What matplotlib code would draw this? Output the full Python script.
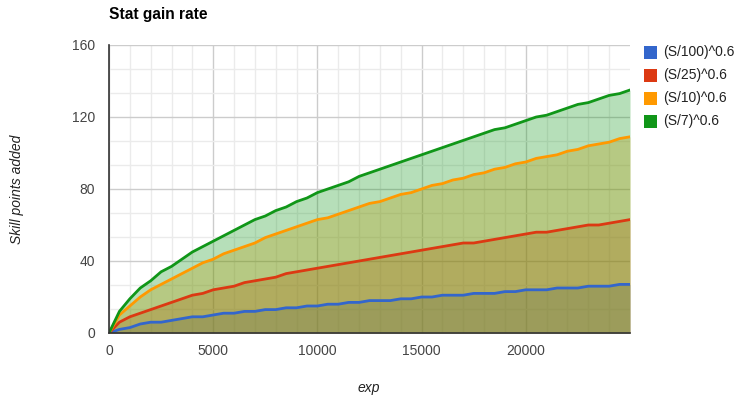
import numpy as np
import matplotlib
matplotlib.use('Agg')
import matplotlib.pyplot as plt
from matplotlib.patches import Rectangle

plt.rcParams['font.family'] = ['Liberation Sans', 'DejaVu Sans']

exp = list(range(0, 25001, 500))
s100 = [0, 2, 3, 5, 6, 6, 7, 8, 9, 9, 10, 11, 11, 12, 12, 13, 13, 14, 14, 15,
        15, 16, 16, 17, 17, 18, 18, 18, 19, 19, 20, 20, 21, 21, 21, 22, 22, 22,
        23, 23, 24, 24, 24, 25, 25, 25, 26, 26, 26, 27, 27]
s25 = [0, 6, 9, 11, 13, 15, 17, 19, 21, 22, 24, 25, 26, 28, 29, 30, 31, 33, 34,
       35, 36, 37, 38, 39, 40, 41, 42, 43, 44, 45, 46, 47, 48, 49, 50, 50, 51,
       52, 53, 54, 55, 56, 56, 57, 58, 59, 60, 60, 61, 62, 63]
s10 = [0, 10, 15, 20, 24, 27, 30, 33, 36, 39, 41, 44, 46, 48, 50, 53, 55, 57,
       59, 61, 63, 64, 66, 68, 70, 72, 73, 75, 77, 78, 80, 82, 83, 85, 86, 88,
       89, 91, 92, 94, 95, 97, 98, 99, 101, 102, 104, 105, 106, 108, 109]
s7 = [0, 12, 19, 25, 29, 34, 37, 41, 45, 48, 51, 54, 57, 60, 63, 65, 68, 70,
      73, 75, 78, 80, 82, 84, 87, 89, 91, 93, 95, 97, 99, 101, 103, 105, 107,
      109, 111, 113, 114, 116, 118, 120, 121, 123, 125, 127, 128, 130, 132,
      133, 135]

series = [s100, s25, s10, s7]
labels = ['(S/100)^0.6', '(S/25)^0.6', '(S/10)^0.6', '(S/7)^0.6']
colors = ['#3366cc', '#dc3912', '#ff9900', '#109618']

fig = plt.figure(figsize=(7.47, 4.03), dpi=100)
ax = fig.add_axes([109 / 747, 70 / 403, 521 / 747, 288 / 403])

for vals, c in zip(series, colors):
    ax.fill_between(exp, 0, vals, color=c, alpha=0.3, linewidth=0, zorder=2)
for vals, c, lab in zip(series, colors, labels):
    ax.plot(exp, vals, color=c, linewidth=2, label=lab, zorder=3,
            solid_joinstyle='round')

ax.set_xlim(0, 25000)
ax.set_ylim(0, 160)
ax.set_xticks([0, 5000, 10000, 15000, 20000])
ax.set_xticks(np.arange(1000, 25000, 1000), minor=True)
ax.set_yticks([0, 40, 80, 120, 160])
ax.set_yticks([40 / 3 * i for i in range(1, 12) if i % 3 != 0], minor=True)
ax.grid(which='major', color='#cccccc', linewidth=1, zorder=0)
ax.grid(which='minor', color='#ebebeb', linewidth=1, zorder=0)
ax.tick_params(which='both', length=0)
ax.tick_params(axis='both', labelsize=10, labelcolor='#444444')
ax.tick_params(axis='y', pad=10)
ax.tick_params(axis='x', pad=8)
for s in ['top', 'right']:
    ax.spines[s].set_visible(False)
for s in ['left', 'bottom']:
    ax.spines[s].set_color('#333333')
    ax.spines[s].set_linewidth(1.2)
    ax.spines[s].set_zorder(4)

fig.text(109 / 747, 1 - 15 / 403, 'Stat gain rate', fontsize=11.2,
         fontweight='bold', color='#000000', ha='left', va='center')
fig.text(17 / 747, 1 - 189 / 403, 'Skill points added', fontsize=10,
         style='italic', color='#222222', rotation=90, ha='center', va='center')
fig.text(369 / 747, 1 - 388 / 403, 'exp', fontsize=10, style='italic',
         color='#222222', ha='center', va='center')

# legend on the right
for i, (lab, c) in enumerate(zip(labels, colors)):
    yc = 52 + i * 23
    fig.patches.append(Rectangle((644 / 747, 1 - (yc + 6.5) / 403), 13 / 747,
                                 13 / 403, transform=fig.transFigure,
                                 facecolor=c, edgecolor='none'))
    fig.text(663 / 747, 1 - yc / 403, lab, fontsize=10, color='#222222',
             ha='left', va='center')

fig.savefig('out.png', dpi=100)
